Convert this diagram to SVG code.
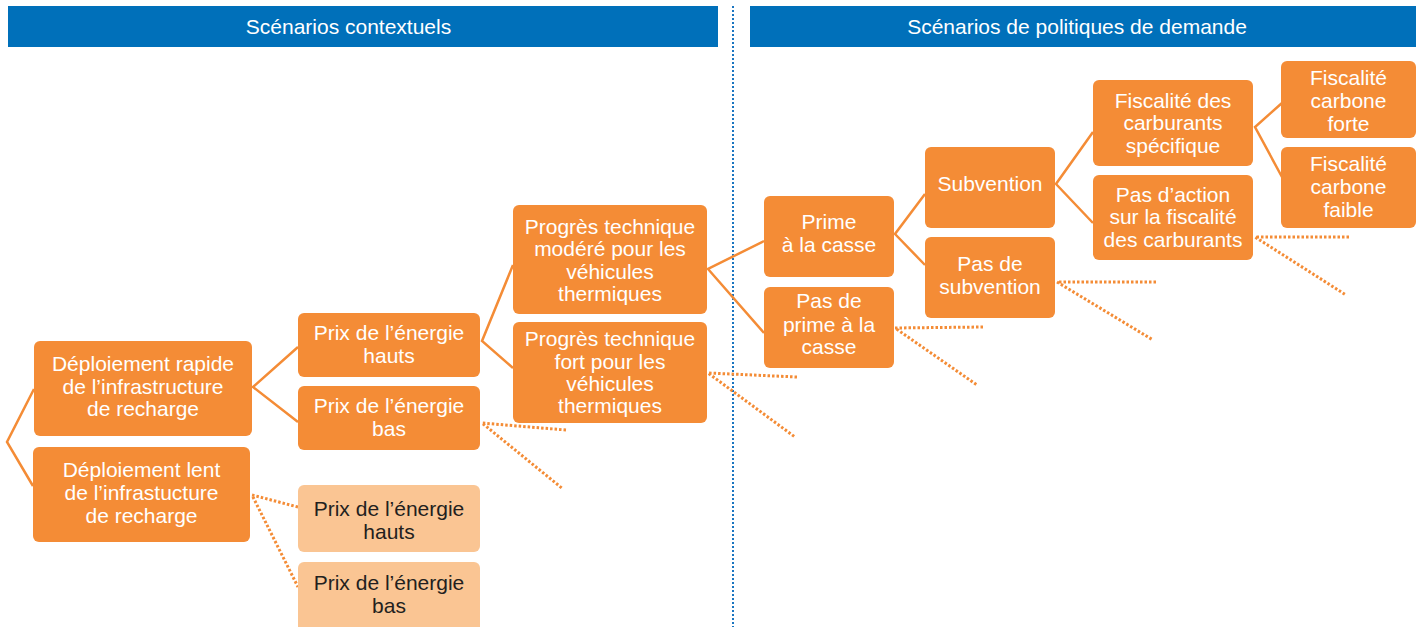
<svg xmlns="http://www.w3.org/2000/svg" width="1424" height="627" viewBox="0 0 1424 627">
<style>
.hdr{fill:#0070BA}
.ht{font-family:"Liberation Sans",Arial,sans-serif;font-size:21px;fill:#fff;text-anchor:middle}
.n rect{fill:#F48C36}
.n text{font-family:"Liberation Sans",Arial,sans-serif;font-size:21px;fill:#fff;text-anchor:middle}
.p rect{fill:#FAC593}
.p text{font-family:"Liberation Sans",Arial,sans-serif;font-size:21px;fill:#231F20;text-anchor:middle}
.c{stroke:#F48C36;stroke-width:2.5;fill:none}
.d{stroke:#F48C36;stroke-width:3;fill:none;stroke-dasharray:2.5 2}
.sep{stroke:#1A75C0;stroke-width:2;stroke-dasharray:2 2}
</style>
<rect width="1424" height="627" fill="#fff"/>
<g id="headers">
<rect class="hdr" x="8" y="6" width="710" height="41"/>
<text class="ht" x="348.5" y="33.5">Scénarios contextuels</text>
<rect class="hdr" x="750" y="6" width="666" height="41"/>
<text class="ht" x="1077" y="33.5">Scénarios de politiques de demande</text>
</g>
<line class="sep" x1="733" y1="6" x2="733" y2="627"/>
<g id="connectors">
<polyline class="c" points="34,389 7,442 33,486"/>
<polyline class="c" points="298,347 253,387 298,422"/>
<polyline class="c" points="513,265 482,341 513,368"/>
<polyline class="c" points="764,241 708,269 764,333"/>
<polyline class="c" points="925,194 895,234 925,265"/>
<polyline class="c" points="1093,132 1056,184 1093,223"/>
<polyline class="c" points="1282,103 1255,127 1282,177"/>
<polyline class="d" points="298,507 252,495 298,587"/>
<polyline class="d" points="566,430 482,423 563,489"/>
<polyline class="d" points="797,377 708,373 795,437"/>
<polyline class="d" points="983,327 895,328 977,385"/>
<polyline class="d" points="1156,282 1057,282 1153,340"/>
<polyline class="d" points="1349,237 1255,237 1346,295"/>
</g>
<g id="n-rapide" class="n"><rect x="34" y="341" width="218" height="95" rx="6"/><text x="143" y="371">Déploiement rapide</text><text x="143" y="394">de l’infrastructure</text><text x="143" y="416">de recharge</text></g>
<g id="n-lent" class="n"><rect x="33" y="447" width="217" height="95" rx="6"/><text x="141.5" y="477">Déploiement lent</text><text x="141.5" y="500">de l’infrastucture</text><text x="141.5" y="523">de recharge</text></g>
<g id="n-prix-hauts" class="n"><rect x="298" y="313" width="182" height="64" rx="6"/><text x="389" y="340">Prix de l’énergie</text><text x="389" y="363">hauts</text></g>
<g id="n-prix-bas" class="n"><rect x="298" y="386" width="182" height="64" rx="6"/><text x="389" y="413">Prix de l’énergie</text><text x="389" y="436">bas</text></g>
<g id="n-prix-hauts-2" class="p"><rect x="298" y="485" width="182" height="67" rx="6"/><text x="389" y="516">Prix de l’énergie</text><text x="389" y="539">hauts</text></g>
<g id="n-prix-bas-2" class="p"><rect x="298" y="562" width="182" height="70" rx="6"/><text x="389" y="590">Prix de l’énergie</text><text x="389" y="613">bas</text></g>
<g id="n-progres-modere" class="n"><rect x="513" y="205" width="194" height="109" rx="6"/><text x="610" y="234">Progrès technique</text><text x="610" y="256">modéré pour les</text><text x="610" y="279">véhicules</text><text x="610" y="301">thermiques</text></g>
<g id="n-progres-fort" class="n"><rect x="513" y="322" width="194" height="101" rx="6"/><text x="610" y="346">Progrès technique</text><text x="610" y="369">fort pour les</text><text x="610" y="391">véhicules</text><text x="610" y="413">thermiques</text></g>
<g id="n-prime" class="n"><rect x="764" y="196" width="130" height="81" rx="6"/><text x="829" y="229">Prime</text><text x="829" y="252">à la casse</text></g>
<g id="n-pas-prime" class="n"><rect x="764" y="287" width="130" height="81" rx="6"/><text x="829" y="308">Pas de</text><text x="829" y="332">prime à la</text><text x="829" y="354">casse</text></g>
<g id="n-subvention" class="n"><rect x="925" y="147" width="130" height="81" rx="6"/><text x="990" y="191">Subvention</text></g>
<g id="n-pas-subvention" class="n"><rect x="925" y="237" width="130" height="81" rx="6"/><text x="990" y="271">Pas de</text><text x="990" y="294">subvention</text></g>
<g id="n-fisc-specifique" class="n"><rect x="1093" y="80" width="160" height="86" rx="6"/><text x="1173" y="108">Fiscalité des</text><text x="1173" y="130">carburants</text><text x="1173" y="153">spécifique</text></g>
<g id="n-pas-action" class="n"><rect x="1093" y="175" width="160" height="85" rx="6"/><text x="1173" y="202">Pas d’action</text><text x="1173" y="224">sur la fiscalité</text><text x="1173" y="247">des carburants</text></g>
<g id="n-carbone-forte" class="n"><rect x="1281" y="61" width="135" height="77" rx="6"/><text x="1348.5" y="85">Fiscalité</text><text x="1348.5" y="108">carbone</text><text x="1348.5" y="131">forte</text></g>
<g id="n-carbone-faible" class="n"><rect x="1281" y="147" width="135" height="81" rx="6"/><text x="1348.5" y="171">Fiscalité</text><text x="1348.5" y="194">carbone</text><text x="1348.5" y="217">faible</text></g>
</svg>
